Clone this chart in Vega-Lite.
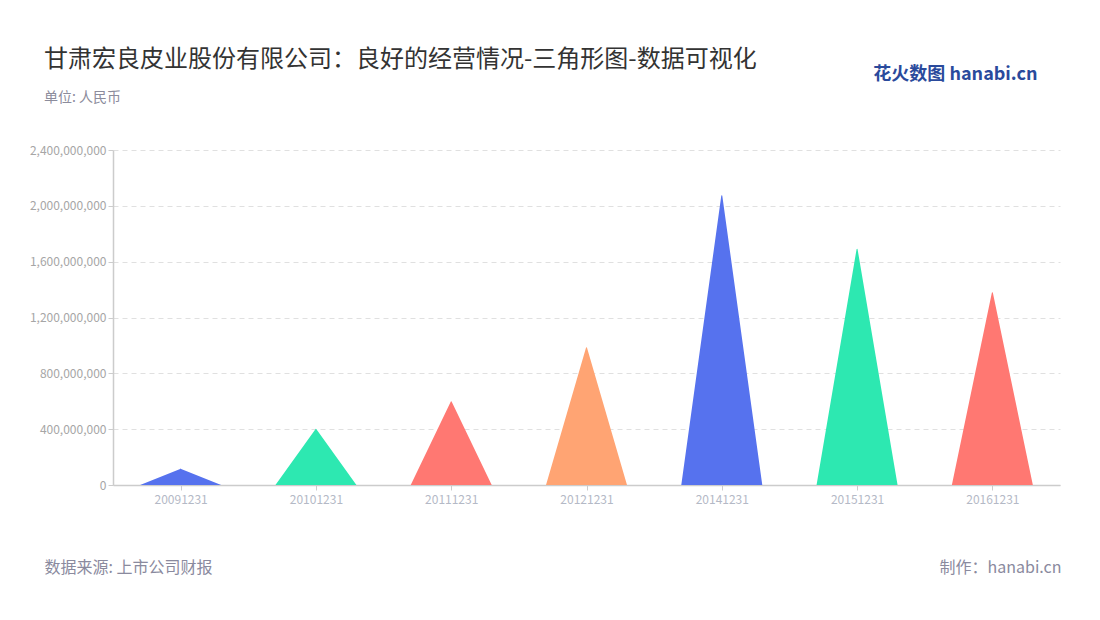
{
  "$schema": "https://vega.github.io/schema/vega-lite/v6.json",
  "width": 947,
  "height": 335,
  "autosize": {"type": "none"},
  "padding": {"left": 113, "top": 150, "right": 40, "bottom": 135},
  "background": "white",
  "config": {"font": "Noto Sans CJK SC", "view": {"stroke": null}},
  "title": {
    "text": "甘肃宏良皮业股份有限公司：良好的经营情况-三角形图-数据可视化",
    "subtitle": "单位: 人民币",
    "anchor": "start",
    "frame": "group",
    "dx": -69,
    "offset": -40,
    "fontSize": 24,
    "fontWeight": "normal",
    "color": "#333333",
    "subtitleFontSize": 14,
    "subtitleColor": "#8c8c9c",
    "subtitlePadding": 19
  },
  "data": {
    "values": [
      {"period": "20091231", "amount": 115000000},
      {"period": "20101231", "amount": 400000000},
      {"period": "20111231", "amount": 597000000},
      {"period": "20121231", "amount": 984000000},
      {"period": "20141231", "amount": 2072000000},
      {"period": "20151231", "amount": 1689000000},
      {"period": "20161231", "amount": 1378000000}
    ]
  },
  "layer": [
    {
      "transform": [
        {"stack": "amount", "groupby": ["period"], "as": ["base", "peak"]},
        {"fold": ["base", "peak"], "as": ["end", "level"]}
      ],
      "mark": {"type": "trail", "clip": true},
      "encoding": {
        "x": {
          "field": "period", "type": "nominal", "sort": null,
          "axis": {
            "title": "数据来源: 上市公司财报",
            "titleAlign": "left", "titleAnchor": "start",
            "titleX": -69, "titleY": 82, "titleBaseline": "middle",
            "titleFontSize": 16, "titleFontWeight": "normal", "titleColor": "#8a8a9e",
            "labelAngle": 0, "labelFontSize": 12, "labelColor": "#b4b9c6", "labelPadding": 4,
            "tickColor": "#cccccc", "tickSize": 5, "domainColor": "#cccccc", "domainWidth": 1.5,
            "grid": false
          }
        },
        "y": {
          "field": "level", "type": "quantitative",
          "scale": {"domain": [0, 2400000000], "nice": false},
          "axis": {
            "title": null,
            "values": [0, 400000000, 800000000, 1200000000, 1600000000, 2000000000, 2400000000],
            "format": ",d",
            "labelFontSize": 12, "labelColor": "#a6a6a6", "labelPadding": 2,
            "tickColor": "#cccccc", "tickSize": 5, "domainColor": "#cccccc", "domainWidth": 1.5,
            "grid": true, "gridColor": "#e0e0e0", "gridDash": [5, 4]
          }
        },
        "size": {
          "field": "end", "type": "ordinal",
          "scale": {"type": "point", "domain": ["base", "peak"], "range": [81, 0], "padding": 0},
          "legend": null
        },
        "color": {
          "field": "period", "type": "nominal", "sort": null,
          "scale": {"range": ["#5672EE", "#2DE8B1", "#FF7872", "#FFA473", "#5672EE", "#2DE8B1", "#FF7872"]},
          "legend": null
        }
      }
    },
    {
      "mark": {"type": "point", "opacity": 0},
      "encoding": {
        "x": {
          "field": "period", "type": "nominal", "sort": null,
          "axis": {
            "orient": "top", "labels": false, "ticks": false, "domain": false, "grid": false,
            "title": "花火数图 hanabi.cn",
            "titleAlign": "right", "titleX": 924, "titleY": -76, "titleBaseline": "middle",
            "titleFontSize": 18, "titleFontWeight": "bold", "titleColor": "#2a4a9c"
          }
        },
        "y": {
          "field": "amount", "type": "quantitative",
          "scale": {"domain": [0, 2400000000], "nice": false},
          "axis": {
            "orient": "right", "labels": false, "ticks": false, "domain": false, "grid": false,
            "title": "制作：hanabi.cn",
            "titleAngle": 0, "titleAlign": "right", "titleX": 1, "titleY": 417, "titleBaseline": "middle",
            "titleFontSize": 16, "titleFontWeight": "normal", "titleColor": "#8a8a9e"
          }
        }
      }
    }
  ],
  "resolve": {"axis": {"x": "independent", "y": "independent"}}
}
